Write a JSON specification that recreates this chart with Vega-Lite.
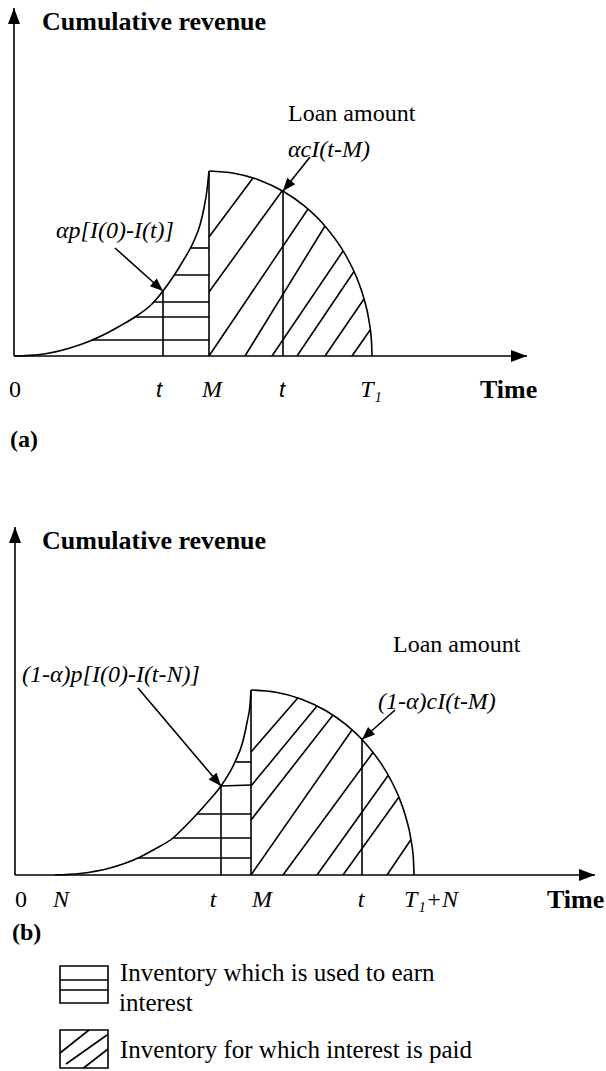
{
  "$schema": "https://vega.github.io/schema/vega-lite/v6.json",
  "padding": 0,
  "spacing": 0,
  "background": "white",
  "config": {"view": {"stroke": null}, "font": "Liberation Serif"},
  "resolve": {"scale": {"x": "independent", "y": "independent"}},
  "vconcat": [
    {
      "width": 606,
      "height": 470,
      "data": {
        "values": [
          {"part": "seg", "kind": "axis", "x": 0, "y": 0, "x2": 51.3, "y2": 0},
          {"part": "seg", "kind": "axis", "x": 0, "y": 0, "x2": 0, "y2": 34.8},
          {"part": "seg", "kind": "M", "x": 19.5, "y": 0, "x2": 19.5, "y2": 18.5},
          {"part": "seg", "kind": "t", "x": 14.9, "y": 0, "x2": 14.9, "y2": 6.5},
          {"part": "seg", "kind": "t", "x": 26.9, "y": 0, "x2": 26.9, "y2": 16.5},
          {"part": "seg", "kind": "earn", "x": 17.7, "y": 10.8, "x2": 19.5, "y2": 10.8},
          {"part": "seg", "kind": "earn", "x": 16.0, "y": 8.1, "x2": 19.5, "y2": 8.1},
          {"part": "seg", "kind": "earn", "x": 13.9, "y": 5.4, "x2": 19.5, "y2": 5.4},
          {"part": "seg", "kind": "earn", "x": 12.1, "y": 3.9, "x2": 19.5, "y2": 3.9},
          {"part": "seg", "kind": "earn", "x": 7.8, "y": 1.6, "x2": 19.5, "y2": 1.6},
          {"part": "seg", "kind": "paid", "x": 19.5, "y": 11.9, "x2": 23.9, "y2": 17.8},
          {"part": "seg", "kind": "paid", "x": 19.5, "y": 6.4, "x2": 26.8, "y2": 16.5},
          {"part": "seg", "kind": "paid", "x": 19.5, "y": 0, "x2": 29.4, "y2": 14.7},
          {"part": "seg", "kind": "paid", "x": 23.1, "y": 0, "x2": 31.1, "y2": 13.0},
          {"part": "seg", "kind": "paid", "x": 25.8, "y": 0, "x2": 32.9, "y2": 10.5},
          {"part": "seg", "kind": "paid", "x": 28.3, "y": 0, "x2": 34.0, "y2": 8.45},
          {"part": "seg", "kind": "paid", "x": 31.1, "y": 0, "x2": 35.0, "y2": 5.7},
          {"part": "seg", "kind": "paid", "x": 33.8, "y": 0, "x2": 35.63, "y2": 2.63},
          {"part": "seg", "kind": "pointer", "x": 10.1, "y": 10.8, "x2": 14.9, "y2": 6.5},
          {"part": "seg", "kind": "pointer", "x": 29.6, "y": 19.9, "x2": 26.9, "y2": 16.5},

          {"part": "head", "id": "xaxis", "x": 51.3, "y": 0},
          {"part": "head", "id": "yaxis", "x": 0, "y": 34.8},
          {"part": "head", "id": "earned", "x": 14.9, "y": 6.5},
          {"part": "head", "id": "loan", "x": 26.9, "y": 16.5},

          {"part": "curve", "curve": "sales", "x": 0, "y": 0},
          {"part": "curve", "curve": "sales", "x": 2.6, "y": 0.15},
          {"part": "curve", "curve": "sales", "x": 5.6, "y": 0.8},
          {"part": "curve", "curve": "sales", "x": 7.6, "y": 1.5},
          {"part": "curve", "curve": "sales", "x": 10.6, "y": 3.0},
          {"part": "curve", "curve": "sales", "x": 12.4, "y": 4.1},
          {"part": "curve", "curve": "sales", "x": 13.7, "y": 5.1},
          {"part": "curve", "curve": "sales", "x": 14.9, "y": 6.5},
          {"part": "curve", "curve": "sales", "x": 15.9, "y": 7.9},
          {"part": "curve", "curve": "sales", "x": 16.9, "y": 9.5},
          {"part": "curve", "curve": "sales", "x": 17.9, "y": 11.3},
          {"part": "curve", "curve": "sales", "x": 18.6, "y": 13.1},
          {"part": "curve", "curve": "sales", "x": 19.0, "y": 14.8},
          {"part": "curve", "curve": "sales", "x": 19.3, "y": 16.6},
          {"part": "curve", "curve": "sales", "x": 19.5, "y": 18.5},

          {"part": "curve", "curve": "loan", "x": 19.5, "y": 18.5},
          {"part": "curve", "curve": "loan", "x": 22.0, "y": 18.28},
          {"part": "curve", "curve": "loan", "x": 24.5, "y": 17.61},
          {"part": "curve", "curve": "loan", "x": 27.0, "y": 16.42},
          {"part": "curve", "curve": "loan", "x": 29.0, "y": 15.03},
          {"part": "curve", "curve": "loan", "x": 31.0, "y": 13.11},
          {"part": "curve", "curve": "loan", "x": 32.5, "y": 11.16},
          {"part": "curve", "curve": "loan", "x": 33.5, "y": 9.47},
          {"part": "curve", "curve": "loan", "x": 34.3, "y": 7.76},
          {"part": "curve", "curve": "loan", "x": 35.0, "y": 5.73},
          {"part": "curve", "curve": "loan", "x": 35.5, "y": 3.52},
          {"part": "curve", "curve": "loan", "x": 35.75, "y": 1.44},
          {"part": "curve", "curve": "loan", "x": 35.8, "y": 0},

          {"part": "title", "label": "Cumulative revenue", "x": 2.8, "y": 33.4},
          {"part": "title", "label": "Time", "x": 46.6, "y": -3.4},
          {"part": "tag", "label": "(a)", "x": -0.4, "y": -8.4},
          {"part": "caption", "label": "Loan amount", "x": 27.4, "y": 24.2},
          {"part": "formula", "label": "αcI(t-M)", "x": 27.4, "y": 20.6},
          {"part": "formula", "label": "αp[I(0)-I(t)]", "x": 4.2, "y": 12.5},
          {"part": "tick", "label": "0", "x": 0.1, "y": -3.4},
          {"part": "tickvar", "label": "M", "x": 19.8, "y": -3.4},
          {"part": "tickvar", "label": "T₁", "x": 35.7, "y": -3.4},
          {"part": "tickt", "label": "t", "x": 14.5, "y": -3.4},
          {"part": "tickt", "label": "t", "x": 26.8, "y": -3.4}
        ]
      },
      "encoding": {
        "x": {"field": "x", "type": "quantitative", "scale": {"domain": [-1.4, 59.2], "nice": false, "zero": false}, "axis": null},
        "y": {"field": "y", "type": "quantitative", "scale": {"domain": [-11.4, 35.6], "nice": false, "zero": false}, "axis": null}
      },
      "layer": [
        {"transform": [{"filter": "datum.part === 'seg'"}], "mark": {"type": "rule", "color": "black", "strokeWidth": 1.6}, "encoding": {"x2": {"field": "x2"}, "y2": {"field": "y2"}}},
        {"transform": [{"filter": "datum.part === 'curve'"}], "mark": {"type": "line", "color": "black", "strokeWidth": 1.6, "interpolate": "monotone"}, "encoding": {"detail": {"field": "curve"}}},
        {"transform": [{"filter": "datum.id === 'xaxis'"}], "mark": {"type": "point", "shape": "M0,0L-2,-0.75L-2,0.75Z", "filled": true, "color": "black", "opacity": 1, "size": 256, "angle": 0}},
        {"transform": [{"filter": "datum.id === 'yaxis'"}], "mark": {"type": "point", "shape": "M0,0L-2,-0.75L-2,0.75Z", "filled": true, "color": "black", "opacity": 1, "size": 256, "angle": 270}},
        {"transform": [{"filter": "datum.id === 'earned'"}], "mark": {"type": "point", "shape": "M0,0L-2,-0.8L-2,0.8Z", "filled": true, "color": "black", "opacity": 1, "size": 169, "angle": 41.9}},
        {"transform": [{"filter": "datum.id === 'loan'"}], "mark": {"type": "point", "shape": "M0,0L-2,-0.8L-2,0.8Z", "filled": true, "color": "black", "opacity": 1, "size": 169, "angle": 129.3}},
        {"transform": [{"filter": "datum.part === 'title'"}], "mark": {"type": "text", "font": "Liberation Serif", "fontSize": 26, "fontWeight": "bold", "align": "left", "baseline": "middle", "color": "black"}, "encoding": {"text": {"field": "label"}}},
        {"transform": [{"filter": "datum.part === 'tag'"}], "mark": {"type": "text", "font": "Liberation Serif", "fontSize": 24, "fontWeight": "bold", "align": "left", "baseline": "middle", "color": "black"}, "encoding": {"text": {"field": "label"}}},
        {"transform": [{"filter": "datum.part === 'caption'"}], "mark": {"type": "text", "font": "Liberation Serif", "fontSize": 24, "align": "left", "baseline": "middle", "color": "black"}, "encoding": {"text": {"field": "label"}}},
        {"transform": [{"filter": "datum.part === 'formula'"}], "mark": {"type": "text", "font": "Liberation Serif", "fontSize": 24, "fontStyle": "italic", "align": "left", "baseline": "middle", "color": "black"}, "encoding": {"text": {"field": "label"}}},
        {"transform": [{"filter": "datum.part === 'tick'"}], "mark": {"type": "text", "font": "Liberation Serif", "fontSize": 24, "align": "center", "baseline": "middle", "color": "black"}, "encoding": {"text": {"field": "label"}}},
        {"transform": [{"filter": "datum.part === 'tickvar'"}], "mark": {"type": "text", "font": "Liberation Serif", "fontSize": 24, "fontStyle": "italic", "align": "center", "baseline": "middle", "color": "black"}, "encoding": {"text": {"field": "label"}}},
        {"transform": [{"filter": "datum.part === 'tickt'"}], "mark": {"type": "text", "font": "Liberation Sans", "fontSize": 22, "fontStyle": "italic", "align": "center", "baseline": "middle", "color": "black"}, "encoding": {"text": {"field": "label"}}}
      ]
    },
    {
      "width": 606,
      "height": 601,
      "data": {
        "values": [
          {"part": "seg", "kind": "axis", "x": 0, "y": 0, "x2": 58.0, "y2": 0},
          {"part": "seg", "kind": "axis", "x": 0, "y": 0, "x2": 0, "y2": 34.8},
          {"part": "seg", "kind": "M", "x": 23.6, "y": 0, "x2": 23.6, "y2": 18.5},
          {"part": "seg", "kind": "t", "x": 20.6, "y": 0, "x2": 20.6, "y2": 8.9},
          {"part": "seg", "kind": "t", "x": 34.7, "y": 0, "x2": 34.7, "y2": 13.55},
          {"part": "seg", "kind": "earn", "x": 12.3, "y": 1.7, "x2": 23.6, "y2": 1.7},
          {"part": "seg", "kind": "earn", "x": 15.8, "y": 3.7, "x2": 23.6, "y2": 3.7},
          {"part": "seg", "kind": "earn", "x": 18.2, "y": 6.1, "x2": 23.6, "y2": 6.1},
          {"part": "seg", "kind": "earn", "x": 20.6, "y": 8.9, "x2": 23.6, "y2": 9.0},
          {"part": "seg", "kind": "earn", "x": 22.1, "y": 11.3, "x2": 23.6, "y2": 11.3},
          {"part": "seg", "kind": "paid", "x": 23.6, "y": 12.3, "x2": 28.3, "y2": 17.72},
          {"part": "seg", "kind": "paid", "x": 23.6, "y": 8.9, "x2": 30.2, "y2": 16.9},
          {"part": "seg", "kind": "paid", "x": 23.6, "y": 5.5, "x2": 31.8, "y2": 16.0},
          {"part": "seg", "kind": "paid", "x": 23.6, "y": 0, "x2": 33.7, "y2": 14.5},
          {"part": "seg", "kind": "paid", "x": 26.8, "y": 0, "x2": 35.8, "y2": 12.25},
          {"part": "seg", "kind": "paid", "x": 30.2, "y": 0, "x2": 37.35, "y2": 10.0},
          {"part": "seg", "kind": "paid", "x": 32.8, "y": 0, "x2": 38.4, "y2": 7.8},
          {"part": "seg", "kind": "paid", "x": 37.2, "y": 0, "x2": 39.6, "y2": 3.55},
          {"part": "seg", "kind": "pointer", "x": 12.3, "y": 18.7, "x2": 20.6, "y2": 8.9},
          {"part": "seg", "kind": "pointer", "x": 38.0, "y": 16.5, "x2": 34.7, "y2": 13.55},
          {"part": "seg", "kind": "key", "x": 4.5, "y": -10.5, "x2": 9.3, "y2": -10.5},
          {"part": "seg", "kind": "key", "x": 4.5, "y": -11.5, "x2": 9.3, "y2": -11.5},
          {"part": "seg", "kind": "key", "x": 4.5, "y": -17.8, "x2": 7.4, "y2": -15.5},
          {"part": "seg", "kind": "key", "x": 5.1, "y": -18.9, "x2": 9.2, "y2": -16.0},
          {"part": "seg", "kind": "key", "x": 6.85, "y": -19.3, "x2": 9.3, "y2": -17.4},

          {"part": "box", "x": 4.5, "y": -9.1, "x2": 9.3, "y2": -12.8},
          {"part": "box", "x": 4.5, "y": -15.5, "x2": 9.3, "y2": -19.3},

          {"part": "head", "id": "xaxis", "x": 58.0, "y": 0},
          {"part": "head", "id": "yaxis", "x": 0, "y": 34.8},
          {"part": "head", "id": "earned", "x": 20.6, "y": 8.9},
          {"part": "head", "id": "loan", "x": 34.7, "y": 13.55},

          {"part": "curve", "curve": "sales", "x": 4.0, "y": 0},
          {"part": "curve", "curve": "sales", "x": 6.5, "y": 0.15},
          {"part": "curve", "curve": "sales", "x": 9.5, "y": 0.7},
          {"part": "curve", "curve": "sales", "x": 12.3, "y": 1.7},
          {"part": "curve", "curve": "sales", "x": 14.0, "y": 2.6},
          {"part": "curve", "curve": "sales", "x": 15.8, "y": 3.7},
          {"part": "curve", "curve": "sales", "x": 17.0, "y": 4.85},
          {"part": "curve", "curve": "sales", "x": 18.2, "y": 6.1},
          {"part": "curve", "curve": "sales", "x": 19.4, "y": 7.45},
          {"part": "curve", "curve": "sales", "x": 20.6, "y": 8.9},
          {"part": "curve", "curve": "sales", "x": 22.0, "y": 11.3},
          {"part": "curve", "curve": "sales", "x": 22.8, "y": 13.4},
          {"part": "curve", "curve": "sales", "x": 23.25, "y": 15.5},
          {"part": "curve", "curve": "sales", "x": 23.5, "y": 17.0},
          {"part": "curve", "curve": "sales", "x": 23.6, "y": 18.5},

          {"part": "curve", "curve": "loan", "x": 23.6, "y": 18.5},
          {"part": "curve", "curve": "loan", "x": 26.1, "y": 18.28},
          {"part": "curve", "curve": "loan", "x": 28.6, "y": 17.61},
          {"part": "curve", "curve": "loan", "x": 31.1, "y": 16.42},
          {"part": "curve", "curve": "loan", "x": 33.1, "y": 15.03},
          {"part": "curve", "curve": "loan", "x": 35.1, "y": 13.11},
          {"part": "curve", "curve": "loan", "x": 36.6, "y": 11.16},
          {"part": "curve", "curve": "loan", "x": 37.6, "y": 9.47},
          {"part": "curve", "curve": "loan", "x": 38.4, "y": 7.76},
          {"part": "curve", "curve": "loan", "x": 39.1, "y": 5.73},
          {"part": "curve", "curve": "loan", "x": 39.6, "y": 3.52},
          {"part": "curve", "curve": "loan", "x": 39.85, "y": 1.44},
          {"part": "curve", "curve": "loan", "x": 39.9, "y": 0},

          {"part": "title", "label": "Cumulative revenue", "x": 2.7, "y": 33.4},
          {"part": "title", "label": "Time", "x": 53.2, "y": -2.5},
          {"part": "tag", "label": "(b)", "x": -0.3, "y": -5.8},
          {"part": "caption", "label": "Loan amount", "x": 37.8, "y": 23.0},
          {"part": "key", "label": "Inventory which is used to earn", "x": 10.5, "y": -9.8},
          {"part": "key", "label": "interest", "x": 10.4, "y": -12.8},
          {"part": "key", "label": "Inventory for which interest is paid", "x": 10.5, "y": -17.5},
          {"part": "formula", "label": "(1-α)p[I(0)-I(t-N)]", "x": 0.7, "y": 20.0},
          {"part": "formula", "label": "(1-α)cI(t-M)", "x": 36.3, "y": 17.3},
          {"part": "tick", "label": "0", "x": 0.6, "y": -2.5},
          {"part": "tickvar", "label": "N", "x": 4.6, "y": -2.5},
          {"part": "tickvar", "label": "t", "x": 19.8, "y": -2.5},
          {"part": "tickvar", "label": "M", "x": 24.7, "y": -2.5},
          {"part": "tickvar", "label": "t", "x": 34.6, "y": -2.5},
          {"part": "tickvar", "label": "T₁+N", "x": 41.6, "y": -2.5}
        ]
      },
      "encoding": {
        "x": {"field": "x", "type": "quantitative", "scale": {"domain": [-1.5, 59.1], "nice": false, "zero": false}, "axis": null},
        "y": {"field": "y", "type": "quantitative", "scale": {"domain": [-19.6, 40.5], "nice": false, "zero": false}, "axis": null}
      },
      "layer": [
        {"transform": [{"filter": "datum.part === 'seg'"}], "mark": {"type": "rule", "color": "black", "strokeWidth": 1.6}, "encoding": {"x2": {"field": "x2"}, "y2": {"field": "y2"}}},
        {"transform": [{"filter": "datum.part === 'box'"}], "mark": {"type": "rect", "fillOpacity": 0, "stroke": "black", "strokeWidth": 1.6}, "encoding": {"x2": {"field": "x2"}, "y2": {"field": "y2"}}},
        {"transform": [{"filter": "datum.part === 'curve'"}], "mark": {"type": "line", "color": "black", "strokeWidth": 1.6, "interpolate": "monotone"}, "encoding": {"detail": {"field": "curve"}}},
        {"transform": [{"filter": "datum.id === 'xaxis'"}], "mark": {"type": "point", "shape": "M0,0L-2,-0.75L-2,0.75Z", "filled": true, "color": "black", "opacity": 1, "size": 256, "angle": 0}},
        {"transform": [{"filter": "datum.id === 'yaxis'"}], "mark": {"type": "point", "shape": "M0,0L-2,-0.75L-2,0.75Z", "filled": true, "color": "black", "opacity": 1, "size": 256, "angle": 270}},
        {"transform": [{"filter": "datum.id === 'earned'"}], "mark": {"type": "point", "shape": "M0,0L-2,-0.8L-2,0.8Z", "filled": true, "color": "black", "opacity": 1, "size": 169, "angle": 49.7}},
        {"transform": [{"filter": "datum.id === 'loan'"}], "mark": {"type": "point", "shape": "M0,0L-2,-0.8L-2,0.8Z", "filled": true, "color": "black", "opacity": 1, "size": 169, "angle": 137.7}},
        {"transform": [{"filter": "datum.part === 'title'"}], "mark": {"type": "text", "font": "Liberation Serif", "fontSize": 26, "fontWeight": "bold", "align": "left", "baseline": "middle", "color": "black"}, "encoding": {"text": {"field": "label"}}},
        {"transform": [{"filter": "datum.part === 'tag'"}], "mark": {"type": "text", "font": "Liberation Serif", "fontSize": 24, "fontWeight": "bold", "align": "left", "baseline": "middle", "color": "black"}, "encoding": {"text": {"field": "label"}}},
        {"transform": [{"filter": "datum.part === 'caption'"}], "mark": {"type": "text", "font": "Liberation Serif", "fontSize": 24, "align": "left", "baseline": "middle", "color": "black"}, "encoding": {"text": {"field": "label"}}},
        {"transform": [{"filter": "datum.part === 'key'"}], "mark": {"type": "text", "font": "Liberation Serif", "fontSize": 25, "align": "left", "baseline": "middle", "color": "black"}, "encoding": {"text": {"field": "label"}}},
        {"transform": [{"filter": "datum.part === 'formula'"}], "mark": {"type": "text", "font": "Liberation Serif", "fontSize": 24, "fontStyle": "italic", "align": "left", "baseline": "middle", "color": "black"}, "encoding": {"text": {"field": "label"}}},
        {"transform": [{"filter": "datum.part === 'tick'"}], "mark": {"type": "text", "font": "Liberation Serif", "fontSize": 24, "align": "center", "baseline": "middle", "color": "black"}, "encoding": {"text": {"field": "label"}}},
        {"transform": [{"filter": "datum.part === 'tickvar'"}], "mark": {"type": "text", "font": "Liberation Serif", "fontSize": 24, "fontStyle": "italic", "align": "center", "baseline": "middle", "color": "black"}, "encoding": {"text": {"field": "label"}}}
      ]
    }
  ]
}
